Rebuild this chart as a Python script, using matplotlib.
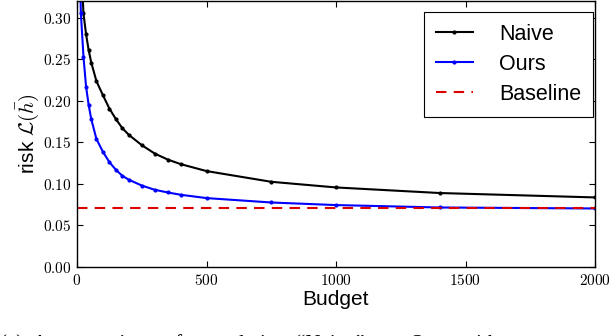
import matplotlib
matplotlib.use("Agg")
import matplotlib.pyplot as plt
from matplotlib.ticker import FuncFormatter

budget = [5, 15, 25, 35, 45, 55, 75, 100, 125, 150, 175, 200, 250, 300, 350, 400, 500, 750, 1000, 1400, 2000]
naive = [0.55, 0.37, 0.305, 0.280, 0.261, 0.246, 0.2236, 0.2067, 0.1906, 0.178, 0.167, 0.159, 0.1466,
         0.1365, 0.1293, 0.1238, 0.1154, 0.1025, 0.0957, 0.089, 0.0837]
ours = [0.45, 0.305, 0.253, 0.217, 0.195, 0.178, 0.154, 0.1386, 0.1262, 0.117, 0.1097, 0.105, 0.098,
        0.0929, 0.0897, 0.0869, 0.0829, 0.0776, 0.0745, 0.0716, 0.0704]
baseline_value = 0.071
xticks = [0, 500, 1000, 1500, 2000]
yticks = [0.00, 0.05, 0.10, 0.15, 0.20, 0.25, 0.30]

plt.rcParams['mathtext.fontset'] = 'cm'
plt.rcParams['font.family'] = ['Liberation Sans', 'DejaVu Sans']

fig = plt.figure(figsize=(6.1, 3.36), dpi=100)
ax = fig.add_axes([77/610, 1 - 267/336, (595-77)/610, 266/336])

ax.plot(budget, naive, color='k', marker='.', markersize=4, linewidth=1.5, label='Naive')
ax.plot(budget, ours, color='b', marker='.', markersize=4, linewidth=1.5, label='Ours')
ax.plot([0, 2000], [baseline_value, baseline_value], color='#dd0000', linestyle=(0, (5, 3.5)),
        linewidth=1.5, label='Baseline')

ax.set_xlim(0, 2000)
ax.set_ylim(0, 0.32)
ax.set_xticks(xticks)
ax.set_yticks(yticks)
ax.xaxis.set_major_formatter(FuncFormatter(lambda v, p: r'$%d$' % int(round(v))))
ax.yaxis.set_major_formatter(FuncFormatter(lambda v, p: r'$%.2f$' % v))
ax.tick_params(direction='in', top=True, right=True, length=4, width=0.8, labelsize=11, pad=4)
for s in ax.spines.values():
    s.set_linewidth(1.0)

ax.set_xlabel('Budget', fontsize=15, labelpad=2)
ax.set_ylabel(r'risk $\mathcal{L}(\bar{h})$', fontsize=15, labelpad=1)

leg = ax.legend(loc='upper right', bbox_to_anchor=(593/610, 1 - 12/336), bbox_transform=fig.transFigure,
                borderaxespad=0, fontsize=15.5, fancybox=False, edgecolor='k', handlelength=1.75,
                handletextpad=1.2, labelspacing=0.42, borderpad=0.55, framealpha=1)
leg.get_frame().set_linewidth(0.8)

fig.text(0.0, 1 - 334/336, '(a)  A  comparison  of  cumulative  \u201cNaive\u201d  vs.  Ours  with  our',
         fontsize=15, family='Liberation Serif', va='top', ha='left')

fig.savefig('out.png', dpi=100)
